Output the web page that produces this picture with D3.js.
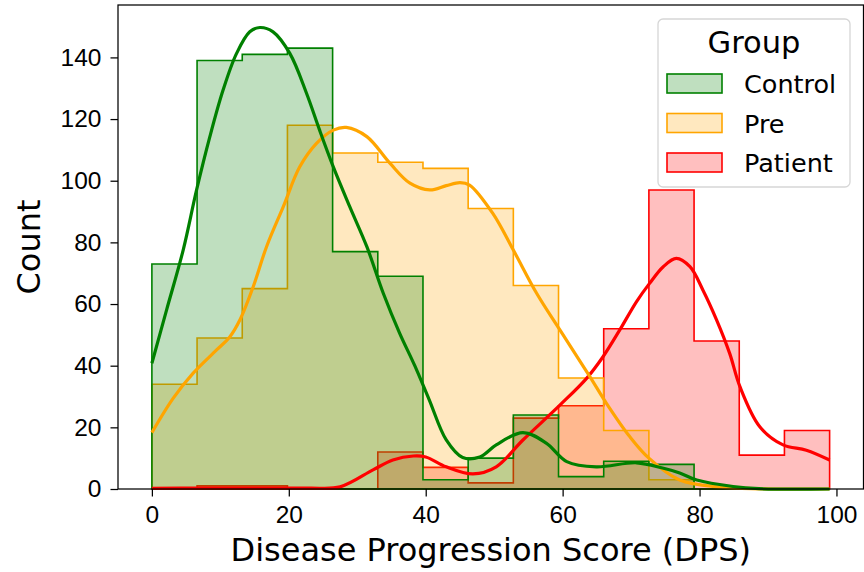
<!DOCTYPE html>
<html>
<head>
<meta charset="utf-8">
<script src="https://cdn.jsdelivr.net/npm/d3@7"></script>
<style>
  body { margin: 0; background: #fff; }
  svg { font-family: "DejaVu Sans", sans-serif; }
  .tick text { font-size: 24.5px; fill: #000; }
  .tick line, .domain { stroke: #000; stroke-width: 1.25px; }
</style>
</head>
<body>
<svg width="864" height="572"></svg>
<script>
// bin edges shared by all groups
var binEdges = [0, 6.6, 13.2, 19.8, 26.4, 33, 39.6, 46.2, 52.8, 59.4, 66, 72.6, 79.2, 85.8, 92.4, 99];

var groups = ["Control", "Pre", "Patient"];
var colors = ["green", "orange", "red"];

var controlCounts = [73, 139, 141, 143, 77, 69, 3, 10, 24, 4, 9, 8, 0, 0, 0];
var preCounts     = [34, 49, 65, 118, 109, 106, 104, 91, 66, 36, 19, 3, 0, 0, 0];
var patientCounts = [0, 1, 1, 0, 0, 12, 7, 2, 23, 27, 52, 97, 48, 11, 19];

// kde curves: [score, count]
var controlKde = [[0,40.8],[2.15,58.1],[4.57,77.5],[6.53,97],[8.47,114.3],[10.4,129.4],[12.37,141.3],[14.3,148.3],
  [15.77,149.7],[17.7,148.3],[20.15,141.3],[22.6,128.3],[24.5,116.4],[26.5,104.5],[28.9,91.6],[31.4,78.6],[33.8,63.5],
  [36.2,50.5],[38.4,40],[40.5,29],[43,15.9],[45.4,10.2],[47.9,10.4],[50.3,14.3],
  [54.2,18.3],[57.6,14.9],[60.6,8.9],[64.9,7.2],[70.8,8.5],[74.6,6.8],[77.1,5.2],[79.6,2.9],[84.9,0.8],[88.7,0.1],[99,0]];
var preKde = [[0,18.3],[3.1,29.4],[6,37.5],[9.45,45.1],[11.4,49.4],[12.85,54.8],[14.8,65.6],[16.75,78.6],[19.2,91.6],
  [21.6,104.5],[24.05,112.1],[26.5,116.4],[28.4,117.3],[31.4,114.3],[34.8,105.6],[37.7,99.2],[40.6,97],[43,98.4],[45,99.4],[46.4,98.6],
  [49.8,89.4],[52.8,77.5],[56.2,63.5],[59.6,51.6],[64,36.4],[66.4,27.8],[69.8,17],[72.6,10],[77.1,2.9],[83,0.6],[88.8,0.05],[99,0]];
var patientKde = [[0,0.2],[7,0.3],[15.8,0.3],[23,0.3],[27.5,0.7],[32.3,6.2],[35.2,9.4],[38.2,10.7],[40,10.4],[43,7.2],
  [46.9,4.9],[50.3,7.2],[54.2,15.9],[59.6,27.2],[63.5,35.9],[65.9,42.9],[68.35,51.6],[70.8,60.8],[72.7,66.7],[74.7,72.1],
  [76.6,74.8],[78.6,72.1],[80.5,64.5],[82.5,54.8],[84.4,44],[85.9,33.2],[88.8,20.2],[92.2,14.3],[95.6,12.6],[99,9.4]];

var xTicks = [0, 20, 40, 60, 80, 100];
var yTicks = [0, 20, 40, 60, 80, 100, 120, 140];

var counts = [controlCounts, preCounts, patientCounts];
var kdes = [controlKde, preKde, patientKde];

const svg = d3.select("svg");
const plot = { left: 118, right: 863.5, top: 5, bottom: 489 };

const x = d3.scaleLinear().domain([-4.95, 103.95]).range([plot.left, plot.right]);
const y = d3.scaleLinear().domain([0, 157]).range([plot.bottom, plot.top]);

// step outline for each group
function stepPoints(c) {
    var pts = [[binEdges[0], 0]];
    c.forEach(function(v, i) {
        pts.push([binEdges[i], v]);
        pts.push([binEdges[i + 1], v]);
    });
    pts.push([binEdges[binEdges.length - 1], 0]);
    return pts;
}

const line = d3.line().x(d => x(d[0])).y(d => y(d[1]));
const kdeLine = d3.line().x(d => x(d[0])).y(d => y(d[1])).curve(d3.curveCatmullRom.alpha(0.5));

const g = svg.append("g");

// seaborn draws the last hue first
for (var i = groups.length - 1; i >= 0; i--) {
    g.append("path")
        .attr("d", line(stepPoints(counts[i])) + "Z")
        .attr("fill", colors[i])
        .attr("fill-opacity", 0.25)
        .attr("stroke", colors[i])
        .attr("stroke-width", 1.6)
        .attr("stroke-linejoin", "miter");
}
for (var i = groups.length - 1; i >= 0; i--) {
    g.append("path")
        .attr("d", kdeLine(kdes[i]))
        .attr("fill", "none")
        .attr("stroke", colors[i])
        .attr("stroke-width", 3.2)
        .attr("stroke-linecap", "butt");
}

// axes
svg.append("g")
    .attr("transform", "translate(0," + plot.bottom + ")")
    .call(d3.axisBottom(x).tickValues(xTicks).tickSize(7.5).tickPadding(9).tickSizeOuter(0));
svg.append("g")
    .attr("transform", "translate(" + plot.left + ",0)")
    .call(d3.axisLeft(y).tickValues(yTicks).tickSize(7.5).tickPadding(9).tickSizeOuter(0));
svg.selectAll(".domain").remove();

// frame
svg.append("rect")
    .attr("x", plot.left).attr("y", plot.top)
    .attr("width", plot.right - plot.left).attr("height", plot.bottom - plot.top)
    .attr("fill", "none").attr("stroke", "#000").attr("stroke-width", 1.25);

svg.append("text")
    .attr("x", (plot.left + plot.right) / 2).attr("y", 561)
    .attr("text-anchor", "middle")
    .style("font-size", "32px")
    .text("Disease Progression Score (DPS)");

svg.append("text")
    .attr("transform", "translate(40," + (plot.top + plot.bottom) / 2 + ") rotate(-90)")
    .attr("text-anchor", "middle")
    .style("font-size", "32px")
    .text("Count");

// legend
const legend = svg.append("g");
legend.append("rect")
    .attr("x", 658).attr("y", 19).attr("width", 192).attr("height", 168)
    .attr("rx", 5)
    .attr("fill", "#fff").attr("fill-opacity", 0.8)
    .attr("stroke", "#d6d6d6").attr("stroke-width", 1.3);
legend.append("text")
    .attr("x", 754).attr("y", 53)
    .attr("text-anchor", "middle")
    .style("font-size", "30.5px")
    .text("Group");
groups.forEach(function(name, i) {
    var yy = 74 + i * 39.5;
    legend.append("rect")
        .attr("x", 667).attr("y", yy).attr("width", 55).attr("height", 19)
        .attr("fill", colors[i]).attr("fill-opacity", 0.25)
        .attr("stroke", colors[i]).attr("stroke-width", 1.6);
    legend.append("text")
        .attr("x", 744).attr("y", yy + 19)
        .style("font-size", "25.5px")
        .text(name);
});
</script>
</body>
</html>
